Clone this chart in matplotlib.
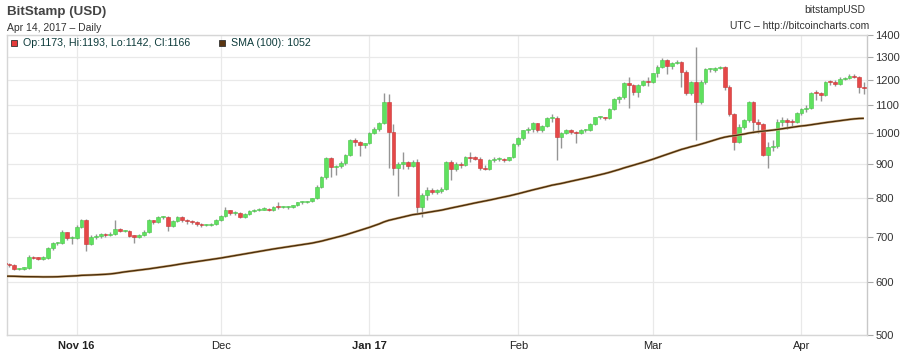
import numpy as np
import pandas as pd
import matplotlib
matplotlib.use("Agg")
import matplotlib.pyplot as plt
import matplotlib.dates as mdates
from matplotlib.patches import Rectangle
from matplotlib.ticker import NullLocator, FixedLocator, FixedFormatter

plt.rcParams['font.family'] = ['Liberation Sans', 'DejaVu Sans']

# ---------------- data ----------------
start_date = "2016-10-17"

opens = [640, 637, 635, 627, 628, 629, 654, 651, 650, 652, 673, 685, 686, 711, 697,
         698, 725, 742, 684, 700, 702, 708, 704, 708, 720, 715, 715, 702, 701, 704,
         713, 741, 737, 750, 750, 728, 740, 750, 742, 740, 737, 731, 729, 730, 732,
         742, 752, 767, 759, 761, 750, 758, 764, 767, 769, 771, 767, 776, 775, 775,
         776, 780, 788, 789, 791, 799, 832, 859, 917, 890, 892, 902, 927, 977, 969,
         960, 966, 999, 1013, 1034, 1113, 1005, 888, 900, 906, 894, 906, 776, 808, 823,
         818, 820, 826, 906, 885, 900, 895, 920, 918, 916, 887, 884, 912, 915, 915,
         911, 920, 962, 984, 1010, 1015, 1034, 1010, 1024, 1052, 1053, 988, 999, 1012, 1002,
         1000, 1010, 1011, 1032, 1055, 1055, 1053, 1085, 1123, 1130, 1189, 1180, 1150, 1180, 1196,
         1192, 1227, 1256, 1285, 1260, 1273, 1278, 1232, 1147, 1192, 1112, 1190, 1245, 1243, 1250,
         1253, 1171, 1067, 971, 1022, 1045, 1112, 1040, 1030, 927, 952, 957, 1040, 1045, 1040,
         1038, 1070, 1085, 1088, 1148, 1147, 1140, 1193, 1192, 1185, 1205, 1208, 1218, 1213, 1173]

highs = [642, 640, 637, 630, 632, 658, 656, 653, 655, 676, 688, 688, 716, 713, 703,
         729, 745, 744, 704, 706, 710, 710, 712, 742, 722, 718, 717, 705, 706, 716,
         745, 743, 752, 753, 752, 741, 752, 751, 745, 742, 740, 734, 733, 735, 745,
         755, 777, 769, 764, 763, 760, 767, 770, 772, 775, 773, 779, 790, 779, 779,
         782, 790, 793, 793, 801, 836, 862, 920, 920, 896, 908, 932, 980, 984, 972,
         968, 1002, 1020, 1037, 1148, 1145, 1030, 905, 938, 910, 912, 915, 815, 830, 828,
         824, 832, 910, 912, 905, 904, 925, 938, 925, 920, 895, 916, 920, 920, 918,
         922, 968, 988, 1012, 1020, 1040, 1036, 1028, 1058, 1068, 1060, 1003, 1015, 1014, 1008,
         1014, 1014, 1036, 1058, 1062, 1058, 1088, 1126, 1135, 1192, 1210, 1183, 1183, 1200, 1210,
         1230, 1262, 1292, 1288, 1278, 1285, 1282, 1240, 1197, 1345, 1198, 1250, 1250, 1255, 1260,
         1258, 1178, 1070, 1030, 1050, 1118, 1118, 1050, 1035, 970, 975, 1048, 1058, 1052, 1048,
         1075, 1090, 1100, 1150, 1160, 1150, 1196, 1198, 1198, 1210, 1212, 1225, 1225, 1218, 1193]

lows = [633, 632, 624, 625, 626, 628, 648, 646, 647, 650, 670, 682, 684, 693, 683,
        695, 722, 668, 680, 696, 698, 700, 702, 705, 711, 711, 700, 686, 698, 702,
        710, 732, 735, 745, 714, 725, 736, 738, 733, 733, 726, 725, 726, 727, 729,
        740, 750, 755, 756, 747, 748, 756, 762, 764, 767, 764, 765, 771, 772, 771,
        774, 778, 784, 786, 788, 797, 828, 855, 860, 865, 886, 897, 925, 955, 925,
        950, 962, 995, 1008, 1030, 887, 865, 806, 885, 885, 890, 760, 750, 795, 812,
        812, 815, 822, 851, 878, 888, 893, 905, 912, 880, 880, 882, 905, 910, 905,
        908, 918, 958, 978, 1000, 1005, 1005, 1005, 1020, 1040, 912, 950, 995, 998, 968,
        995, 1003, 1008, 1028, 1048, 1045, 1048, 1082, 1110, 1125, 1090, 1140, 1130, 1175, 1175,
        1188, 1210, 1250, 1225, 1245, 1268, 1171, 1140, 1140, 978, 1105, 1185, 1235, 1232, 1245,
        1160, 1060, 943, 965, 1015, 1040, 1000, 1000, 925, 888, 940, 950, 1025, 1015, 1025,
        1035, 1065, 1075, 1085, 1120, 1115, 1135, 1178, 1175, 1180, 1200, 1203, 1208, 1148, 1142]

closes = [637, 635, 627, 628, 629, 654, 651, 650, 652, 673, 685, 686, 711, 697, 698,
          725, 742, 684, 700, 702, 708, 704, 708, 720, 715, 715, 702, 701, 704, 713,
          741, 737, 750, 750, 728, 740, 750, 742, 740, 737, 731, 729, 730, 732, 742,
          752, 767, 759, 761, 750, 758, 764, 767, 769, 771, 767, 776, 775, 775, 776,
          780, 788, 789, 791, 799, 832, 859, 917, 890, 892, 902, 927, 977, 969, 960,
          966, 999, 1013, 1034, 1113, 1005, 888, 900, 906, 894, 906, 776, 808, 823, 818,
          820, 826, 906, 885, 900, 895, 920, 918, 916, 887, 884, 912, 915, 915, 911,
          920, 962, 984, 1010, 1015, 1034, 1010, 1024, 1052, 1053, 988, 999, 1012, 1002, 1000,
          1010, 1011, 1032, 1055, 1055, 1053, 1085, 1123, 1130, 1189, 1180, 1150, 1180, 1196, 1192,
          1227, 1256, 1285, 1260, 1273, 1278, 1232, 1147, 1192, 1112, 1190, 1245, 1245, 1250, 1253,
          1171, 1067, 971, 1022, 1045, 1112, 1040, 1030, 927, 952, 957, 1040, 1045, 1040, 1038,
          1070, 1085, 1088, 1148, 1147, 1140, 1193, 1192, 1185, 1205, 1208, 1218, 1213, 1173, 1166]

# closes before the visible window (Jul 9 - Oct 16 2016), used only for the 100-day SMA
history_closes = [
    650, 648, 647, 674, 655, 659, 665, 662, 679, 672, 672, 664, 665, 650, 655, 660, 655, 654,
    655, 655, 656, 656, 624,
    606, 547, 566, 576, 575, 587, 592, 591, 587, 592, 588, 587, 585, 570, 567, 581, 574, 574,
    575, 582, 581, 586, 583, 580, 578, 579, 569, 573, 574, 577, 573,
    572, 575, 598, 608, 606, 610, 613, 625, 622, 623, 607, 608, 609, 609, 607, 607, 605, 610,
    610, 608, 597, 596, 602, 602, 600, 606, 605, 604, 605, 609,
    613, 610, 611, 609, 612, 612, 617, 618, 616, 617, 641, 636, 636, 638, 637, 640]

sma_period = 100

month_ticks = ["2016-11-01", "2016-12-01", "2017-01-01", "2017-02-01", "2017-03-01", "2017-04-01"]
month_labels = ["Nov 16", "Dec", "Jan 17", "Feb", "Mar", "Apr"]
price_ticks = [500, 600, 700, 800, 900, 1000, 1100, 1200, 1300, 1400]

title = "BitStamp (USD)"
subtitle = "Apr 14, 2017 \u2013 Daily"
symbol_text = "bitstampUSD"
source_text = "UTC \u2013 http://bitcoincharts.com"

# ---------------- figure ----------------
W, H = 907, 355
fig = plt.figure(figsize=(W / 100, H / 100), dpi=100)
fig.patch.set_facecolor("white")

ax_l, ax_r, ax_t, ax_b = 6.7, 867.0, 35.0, 335.0
ax = fig.add_axes([ax_l / W, 1 - ax_b / H, (ax_r - ax_l) / W, (ax_b - ax_t) / H])
ax.set_yscale("log")

dates = pd.date_range(start_date, periods=len(closes), freq="D")
x = mdates.date2num(dates)
o = np.array(opens, float)
h = np.array(highs, float)
l = np.array(lows, float)
c = np.array(closes, float)

all_close = pd.Series(history_closes + closes, dtype=float)
sma = all_close.rolling(sma_period).mean().values[len(history_closes):]

# grid
for m in month_ticks:
    ax.axvline(mdates.date2num(pd.Timestamp(m)), color="#e9e9e9", lw=0.9, zorder=0)
for p in price_ticks:
    ax.axhline(p, color="#e9e9e9", lw=0.9, zorder=0)

# wicks
ax.vlines(x, l, h, color="#959595", lw=1.0, zorder=2)

# bodies
up = c >= o
bottom = np.minimum(o, c)
top = np.maximum(o, c)
min_h = bottom * 0.004
height = np.maximum(top - bottom, min_h)
ax.bar(x[up], height[up], bottom=bottom[up], width=0.78, color="#5fe15f",
       edgecolor="#49c449", linewidth=0.4, zorder=3, align="center")
ax.bar(x[~up], height[~up], bottom=bottom[~up], width=0.78, color="#e54848",
       edgecolor="#c93434", linewidth=0.4, zorder=3, align="center")

# SMA
ax.plot(x, sma, color="#d2b083", lw=1.8, zorder=4, solid_capstyle="butt")
ax.plot(x, sma, color="#4a2e0c", lw=1.0, zorder=5, solid_capstyle="butt")

# limits
ax.set_xlim(mdates.date2num(pd.Timestamp("2016-10-17")) + 0.42,
            mdates.date2num(pd.Timestamp("2017-04-14")) + 0.65)
ax.set_ylim(500, 1400)

# y axis on right
ax.yaxis.tick_right()
ax.yaxis.set_major_locator(FixedLocator(price_ticks))
ax.yaxis.set_major_formatter(FixedFormatter([str(p) for p in price_ticks]))
ax.yaxis.set_minor_locator(NullLocator())
ax.tick_params(axis="y", which="major", right=True, left=False, length=4, width=0.8,
               color="#a8a8a8", labelsize=8, labelcolor="#333333", pad=2)

# x axis
xt = [mdates.date2num(pd.Timestamp(m)) for m in month_ticks]
ax.xaxis.set_major_locator(FixedLocator(xt))
ax.xaxis.set_major_formatter(FixedFormatter(month_labels))
ax.xaxis.set_minor_locator(NullLocator())
ax.tick_params(axis="x", which="major", length=0, labelsize=8, labelcolor="#222222", pad=4)
for lab in ax.get_xticklabels():
    if " " in lab.get_text():
        lab.set_fontweight("bold")

for side, sp in ax.spines.items():
    sp.set_color("#d6d6d6")
    sp.set_linewidth(1.0)
ax.spines["right"].set_color("#c8c8c8")

# header texts
fig.text(ax_l / W, 1 - 15.2 / H, title, fontsize=9.6, fontweight="bold",
         color="#444444", va="baseline", ha="left")
fig.text(ax_l / W, 1 - 30.8 / H, subtitle, fontsize=7.5, color="#333333",
         va="baseline", ha="left")
fig.text(865 / W, 1 - 13.2 / H, symbol_text, fontsize=7.5, color="#333333",
         va="baseline", ha="right")
fig.text(869 / W, 1 - 29.2 / H, source_text, fontsize=7.5, color="#333333",
         va="baseline", ha="right")

# legend row
last = len(closes) - 1
fig.add_artist(Rectangle((11.2 / W, 1 - 46.2 / H), 6 / W, 6.2 / H, transform=fig.transFigure,
                         facecolor="#e53b3b", edgecolor="#333333", linewidth=0.6, zorder=10))
fig.text(23.3 / W, 1 - 46.4 / H,
         f"Op:{opens[last]}, Hi:{highs[last]}, Lo:{lows[last]}, Cl:{closes[last]}",
         fontsize=7.7, color="#0d3b3b", va="baseline", ha="left", zorder=10)
fig.add_artist(Rectangle((219.2 / W, 1 - 46.2 / H), 6 / W, 6.2 / H, transform=fig.transFigure,
                         facecolor="#5a3510", edgecolor="#333333", linewidth=0.6, zorder=10))
fig.text(231.3 / W, 1 - 46.4 / H, f"SMA ({sma_period}): {int(round(sma[-1]))}",
         fontsize=7.7, color="#0d3b3b", va="baseline", ha="left", zorder=10)

fig.savefig("out.png", dpi=100)
